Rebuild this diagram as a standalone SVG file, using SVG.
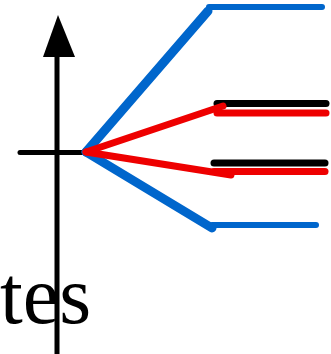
<svg xmlns="http://www.w3.org/2000/svg" width="331" height="354" viewBox="0 0 331 354">
<style>
.ax{stroke:#000;stroke-width:5;fill:none;stroke-linecap:round}
.bd{stroke:#0066CC;stroke-width:9;fill:none;stroke-linecap:round;stroke-linejoin:round}
.bh{stroke:#0066CC;stroke-width:6;fill:none;stroke-linecap:round}
.rd{stroke:#EE0000;stroke-width:7;fill:none;stroke-linecap:round;stroke-linejoin:round}
.rh{stroke:#EE0000;stroke-width:7;fill:none;stroke-linecap:round}
.kh{stroke:#000;stroke-width:7;fill:none;stroke-linecap:round}
.lbl{font-family:"Liberation Serif","Times New Roman",serif;font-size:82px;fill:#000}
</style>
<g id="axes">
<line class="ax" x1="57" y1="55" x2="57" y2="356" style="stroke-linecap:butt"/>
<polygon points="58,15 43,57 75,57" fill="#000"/>
<line class="ax" x1="20" y1="152.5" x2="86" y2="152.5"/>
</g>
<g id="label">
<text class="lbl" x="0" y="323">tes</text>
</g>
<g id="connectors">
<line class="bh" x1="209" y1="7" x2="322" y2="7"/>
<line class="bd" x1="86" y1="152" x2="208" y2="11"/>
<line class="bh" x1="212" y1="225" x2="316" y2="225"/>
<line class="bd" x1="86" y1="152" x2="212" y2="228"/>
<line class="kh" x1="217" y1="103.5" x2="326" y2="103.5"/>
<line class="rh" x1="217" y1="113" x2="326" y2="113"/>
<line class="rd" x1="86" y1="152" x2="223" y2="106"/>
<line class="kh" x1="214" y1="163" x2="325" y2="163"/>
<line class="rh" x1="214" y1="171.5" x2="325" y2="171.5"/>
<line class="rd" x1="86" y1="152" x2="231" y2="175"/>
</g>
</svg>
